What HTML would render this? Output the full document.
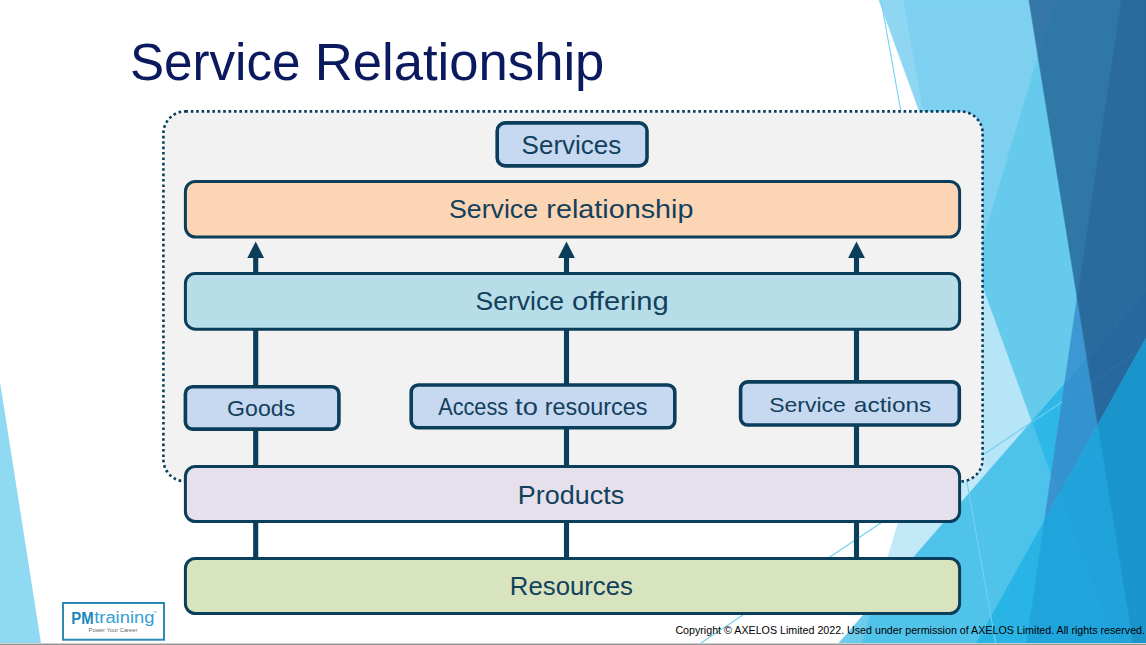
<!DOCTYPE html>
<html><head><meta charset="utf-8"><style>
html,body{margin:0;padding:0;background:#fff;width:1146px;height:645px;overflow:hidden}
svg{display:block}
text{font-family:"Liberation Sans",sans-serif}
</style></head><body>
<svg width="1146" height="645" viewBox="0 0 1146 645">
<polygon points="903.5,0.0 879.0,0.0 927.1,132.5" fill="#8fd6f3" stroke="#8fd6f3" stroke-width="0.7"/>
<polygon points="959.9,317.0 975.4,265.5 927.1,132.5" fill="#c0e8f8" stroke="#c0e8f8" stroke-width="0.7"/>
<polygon points="874.3,602.4 987.5,472.2 959.9,317.0" fill="#c3e9f9" stroke="#c3e9f9" stroke-width="0.7"/>
<polygon points="874.3,602.4 837.2,645.0 861.5,645.0" fill="#6dcbec" stroke="#6dcbec" stroke-width="0.7"/>
<polygon points="903.5,0.0 927.1,132.5 975.4,265.5 1038.1,56.3 1029.0,0.0" fill="#7dd0ef" stroke="#7dd0ef" stroke-width="0.7"/>
<polygon points="959.9,317.0 987.5,472.2 1031.9,421.2 975.4,265.5" fill="#b6e5f8" stroke="#b6e5f8" stroke-width="0.7"/>
<polygon points="987.5,472.2 874.3,602.4 861.5,645.0 975.3,645.0 1007.9,586.4" fill="#50c3ea" stroke="#50c3ea" stroke-width="0.7"/>
<polygon points="1031.9,421.2 1064.6,383.5 1077.2,297.7 1038.1,56.3 975.4,265.5" fill="#66caed" stroke="#66caed" stroke-width="0.7"/>
<polygon points="1055.0,0.0 1029.0,0.0 1038.1,56.3" fill="#3578a7" stroke="#3578a7" stroke-width="0.7"/>
<polygon points="1051.2,474.6 1031.9,421.2 987.5,472.2 1007.9,586.4 1044.5,520.6" fill="#4dc3eb" stroke="#4dc3eb" stroke-width="0.7"/>
<polygon points="1007.9,586.4 975.3,645.0 1018.3,645.0" fill="#28b4e5" stroke="#28b4e5" stroke-width="0.7"/>
<polygon points="1077.2,297.7 1121.0,0.0 1055.0,0.0 1038.1,56.3" fill="#2f77a5" stroke="#2f77a5" stroke-width="0.7"/>
<polygon points="1087.0,357.9 1077.2,297.7 1064.6,383.5" fill="#3c97d3" stroke="#3c97d3" stroke-width="0.7"/>
<polygon points="1064.6,383.5 1031.9,421.2 1051.2,474.6" fill="#2db8e7" stroke="#2db8e7" stroke-width="0.7"/>
<polygon points="1044.5,520.6 1058.7,495.0 1051.2,474.6" fill="#3a93d0" stroke="#3a93d0" stroke-width="0.7"/>
<polygon points="1044.5,520.6 1007.9,586.4 1018.3,645.0 1026.2,645.0" fill="#28b4e5" stroke="#28b4e5" stroke-width="0.7"/>
<polygon points="1077.2,297.7 1087.0,357.9 1146.0,290.0 1146.0,0.0 1121.0,0.0" fill="#2a6b9e" stroke="#2a6b9e" stroke-width="0.7"/>
<polygon points="1058.7,495.0 1097.8,424.7 1087.0,357.9 1064.6,383.5 1051.2,474.6" fill="#3492cf" stroke="#3492cf" stroke-width="0.7"/>
<polygon points="1026.2,645.0 1113.1,645.0 1058.7,495.0 1044.5,520.6" fill="#1fa5dc" stroke="#1fa5dc" stroke-width="0.7"/>
<polygon points="1146.0,290.0 1087.0,357.9 1097.8,424.7 1146.0,338.0" fill="#27699e" stroke="#27699e" stroke-width="0.7"/>
<polygon points="1113.1,645.0 1133.5,645.0 1097.8,424.7 1058.7,495.0" fill="#1fa3da" stroke="#1fa3da" stroke-width="0.7"/>
<polygon points="1146.0,645.0 1146.0,338.0 1097.8,424.7 1133.5,645.0" fill="#1a95cc" stroke="#1a95cc" stroke-width="0.7"/>
<polygon points="0,382 41,643 0,643" fill="#8fd9f3"/>
<line x1="881" y1="0" x2="996" y2="645" stroke="#72d0f2" stroke-width="1.1"/>
<line x1="1062" y1="402" x2="698" y2="645" stroke="#6ccdf0" stroke-width="1.1"/>
<line x1="1146" y1="346" x2="1062" y2="402" stroke="#6ccdf0" stroke-width="1" opacity="0.1"/>
<rect x="163.4" y="111.4" width="819.2" height="370" rx="22" fill="#f2f2f2" stroke="#0b3e5a" stroke-width="2.6" stroke-dasharray="2.6 2.8"/>
<rect x="253.15" y="255" width="5.1" height="303" fill="#0b3e5a"/>
<path d="M255.70 241.6 L264.10 257.9 L247.30 257.9 Z" fill="#0b3e5a"/>
<rect x="563.95" y="255" width="5.1" height="303" fill="#0b3e5a"/>
<path d="M566.50 241.6 L574.90 257.9 L558.10 257.9 Z" fill="#0b3e5a"/>
<rect x="853.95" y="255" width="5.1" height="303" fill="#0b3e5a"/>
<path d="M856.50 241.6 L864.90 257.9 L848.10 257.9 Z" fill="#0b3e5a"/>
<rect x="497.20" y="122.90" width="149.80" height="43.00" rx="8" fill="#c6d9f1" stroke="#0b3e5a" stroke-width="3.6"/>
<rect x="185.40" y="181.50" width="774.20" height="55.60" rx="10" fill="#fcd5b4" stroke="#0b3e5a" stroke-width="3.0"/>
<rect x="185.40" y="273.50" width="774.20" height="55.70" rx="10" fill="#b7dee8" stroke="#0b3e5a" stroke-width="3.0"/>
<rect x="185.40" y="386.70" width="153.50" height="42.40" rx="7" fill="#c6d9f1" stroke="#0b3e5a" stroke-width="3.6"/>
<rect x="411.20" y="385.00" width="263.60" height="42.70" rx="7" fill="#c6d9f1" stroke="#0b3e5a" stroke-width="3.6"/>
<rect x="740.60" y="381.90" width="218.70" height="43.10" rx="7" fill="#c6d9f1" stroke="#0b3e5a" stroke-width="3.6"/>
<rect x="185.40" y="466.50" width="774.20" height="55.00" rx="10" fill="#e5e0ec" stroke="#0b3e5a" stroke-width="3.0"/>
<rect x="185.40" y="558.50" width="774.20" height="55.00" rx="10" fill="#d7e4bd" stroke="#0b3e5a" stroke-width="3.0"/>
<rect x="63" y="603" width="101" height="36.7" fill="#fff" stroke="#2b8ab5" stroke-width="2"/>
<text x="129.88" y="79.84" font-size="52.46" textLength="170.60" lengthAdjust="spacingAndGlyphs" fill="#0b1a5e" >Service</text>
<text x="314.68" y="79.84" font-size="52.46" textLength="289.73" lengthAdjust="spacingAndGlyphs" fill="#0b1a5e" >Relationship</text>
<text x="521.62" y="154.47" font-size="26.30" textLength="99.72" lengthAdjust="spacingAndGlyphs" fill="#13405c" >Services</text>
<text x="448.99" y="218.38" font-size="24.96" textLength="89.10" lengthAdjust="spacingAndGlyphs" fill="#13405c" >Service</text>
<text x="546.39" y="218.38" font-size="24.96" textLength="147.12" lengthAdjust="spacingAndGlyphs" fill="#13405c" >relationship</text>
<text x="475.60" y="310.47" font-size="25.23" textLength="88.38" lengthAdjust="spacingAndGlyphs" fill="#13405c" >Service</text>
<text x="572.08" y="310.47" font-size="25.23" textLength="96.60" lengthAdjust="spacingAndGlyphs" fill="#13405c" >offering</text>
<text x="227.14" y="416.39" font-size="22.41" textLength="68.10" lengthAdjust="spacingAndGlyphs" fill="#13405c" >Goods</text>
<text x="438.16" y="414.78" font-size="23.47" textLength="69.93" lengthAdjust="spacingAndGlyphs" fill="#13405c" >Access</text>
<text x="515.09" y="414.78" font-size="23.47" textLength="22.76" lengthAdjust="spacingAndGlyphs" fill="#13405c" >to</text>
<text x="544.75" y="414.78" font-size="23.47" textLength="102.70" lengthAdjust="spacingAndGlyphs" fill="#13405c" >resources</text>
<text x="769.15" y="411.50" font-size="20.66" textLength="76.77" lengthAdjust="spacingAndGlyphs" fill="#13405c" >Service</text>
<text x="853.86" y="411.50" font-size="20.66" textLength="77.42" lengthAdjust="spacingAndGlyphs" fill="#13405c" >actions</text>
<text x="517.79" y="503.57" font-size="26.10" textLength="106.39" lengthAdjust="spacingAndGlyphs" fill="#13405c" >Products</text>
<text x="509.89" y="595.17" font-size="25.27" textLength="123.04" lengthAdjust="spacingAndGlyphs" fill="#13405c" >Resources</text>
<text x="675.40" y="633.90" font-size="10.60" textLength="469.60" lengthAdjust="spacingAndGlyphs" fill="#000000" >Copyright © AXELOS Limited 2022. Used under permission of AXELOS Limited. All rights reserved.</text>
<text x="71.30" y="623.60" font-size="16.00" textLength="22.30" lengthAdjust="spacingAndGlyphs" fill="#1b87ba" font-weight="bold">PM</text>
<text x="94.20" y="623.00" font-size="15.60" textLength="60.20" lengthAdjust="spacingAndGlyphs" fill="#34a0d3" >training</text>
<text x="88.60" y="632.40" font-size="5.60" textLength="48.80" lengthAdjust="spacingAndGlyphs" fill="#666666" >Power Your Career</text>
<text x="152.80" y="613.80" font-size="4.50" textLength="4.20" lengthAdjust="spacingAndGlyphs" fill="#5ab0d8" >™</text>
<rect x="0" y="643" width="1146" height="1" fill="#cfcfcf"/><rect x="0" y="644" width="1146" height="1" fill="#939393"/>
</svg>
</body></html>
